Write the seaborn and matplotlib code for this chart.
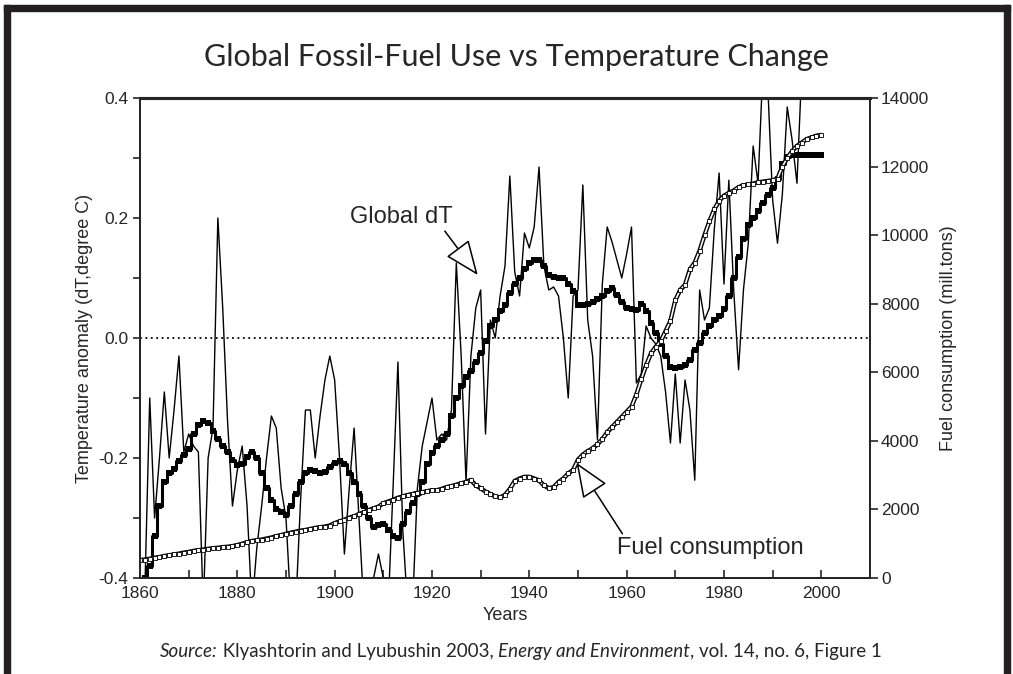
#GLOBAL FOSSIL-FUEL USE VS TEMPERATURE CHANGE (Klyashtorin & Lyubushin 2003, fig. 1)

import numpy as np
import matplotlib.pyplot as plt
import seaborn as sns

# annual temperature anomaly (thin line), 1861-2000
years = list(range(1861, 2001))
dt_annual = [-0.42, -0.10, -0.30, -0.20, -0.09, -0.20, -0.12, -0.03, -0.19, -0.16,
             -0.18, -0.19, -0.45, -0.20, -0.15, 0.20, 0.05, -0.14, -0.28, -0.22,
             -0.18, -0.28, -0.45, -0.35, -0.28, -0.20, -0.13, -0.15, -0.25, -0.30,
             -0.45, -0.45, -0.27, -0.12, -0.12, -0.20, -0.13, -0.07, -0.03, -0.07,
             -0.20, -0.36, -0.25, -0.15, -0.30, -0.45, -0.45, -0.40, -0.36, -0.40,
             -0.45, -0.25, -0.04, -0.32, -0.45, -0.45, -0.25, -0.18, -0.14, -0.10,
             -0.17, -0.16, -0.17, -0.12, 0.125, -0.03, -0.24, -0.03, 0.05, 0.08,
             -0.16, 0.03, 0.00, 0.07, 0.12, 0.27, 0.11, 0.07, 0.175, 0.15,
             0.185, 0.285, 0.12, 0.08, 0.085, 0.07, 0.00, -0.10, 0.07, 0.08,
             0.255, 0.03, -0.03, -0.17, 0.09, 0.185, 0.16, 0.13, 0.10, 0.14,
             0.185, -0.075, -0.06, 0.02, 0.00, -0.01, -0.03, -0.09, -0.175, -0.06,
             -0.175, -0.07, -0.12, -0.237, 0.08, 0.03, 0.05, 0.18, 0.275, 0.09,
             0.263, 0.08, -0.053, 0.08, 0.158, 0.32, 0.258, 0.45, 0.42, 0.23,
             0.158, 0.24, 0.385, 0.33, 0.258, 0.45, 0.45, 0.42, 0.42, 0.40]

# smoothed temperature anomaly (thick line with squares), 1861-2000
dt_smooth = [-0.40, -0.38, -0.33, -0.28, -0.24, -0.225, -0.218, -0.205, -0.195, -0.185,
             -0.16, -0.145, -0.138, -0.142, -0.155, -0.168, -0.18, -0.19, -0.203, -0.212,
             -0.21, -0.198, -0.19, -0.20, -0.225, -0.25, -0.27, -0.285, -0.29, -0.295,
             -0.28, -0.26, -0.24, -0.225, -0.22, -0.222, -0.225, -0.224, -0.215, -0.208,
             -0.205, -0.21, -0.225, -0.24, -0.26, -0.28, -0.30, -0.315, -0.312, -0.31,
             -0.32, -0.33, -0.333, -0.31, -0.29, -0.275, -0.26, -0.24, -0.21, -0.192,
             -0.18, -0.17, -0.16, -0.13, -0.10, -0.08, -0.065, -0.055, -0.04, -0.025,
             -0.005, 0.02, 0.03, 0.045, 0.055, 0.075, 0.09, 0.10, 0.115, 0.125,
             0.13, 0.13, 0.12, 0.105, 0.102, 0.10, 0.10, 0.09, 0.078, 0.055,
             0.055, 0.057, 0.06, 0.065, 0.07, 0.078, 0.083, 0.072, 0.06, 0.05,
             0.048, 0.047, 0.057, 0.045, 0.025, 0.008, -0.01, -0.03, -0.048, -0.05,
             -0.048, -0.045, -0.037, -0.02, -0.008, 0.008, 0.02, 0.03, 0.037, 0.048,
             0.07, 0.10, 0.135, 0.165, 0.188, 0.20, 0.212, 0.225, 0.238, 0.25,
             0.265, 0.29, 0.302, 0.305, 0.305, 0.305, 0.305, 0.305, 0.305, 0.305]

# fuel consumption (mill. tons), 1860-2000
fuel_years = list(range(1860, 2001))
fuel = [520, 540, 560, 590, 610, 640, 660, 690, 710, 740,
        760, 790, 810, 830, 850, 870, 880, 900, 910, 930,
        960, 1000, 1040, 1080, 1100, 1120, 1150, 1180, 1220, 1250,
        1290, 1320, 1350, 1380, 1400, 1430, 1460, 1480, 1500, 1530,
        1600, 1650, 1700, 1760, 1800, 1860, 1920, 1980, 2030, 2080,
        2180, 2230, 2280, 2340, 2380, 2420, 2450, 2480, 2500, 2530,
        2560, 2560, 2600, 2650, 2680, 2720, 2760, 2800, 2860, 2700,
        2620, 2520, 2450, 2380, 2350, 2420, 2600, 2830, 2900, 2950,
        2950, 2900, 2850, 2700, 2620, 2650, 2800, 2900, 3050, 3150,
        3450, 3600, 3700, 3780, 3900, 4050, 4250, 4400, 4550, 4700,
        4850, 5000, 5350, 5800, 6200, 6550, 6750, 6900, 7200, 7500,
        8100, 8400, 8550, 9000, 9200, 9550, 10000, 10400, 10750, 11000,
        11150, 11230, 11300, 11400, 11450, 11480, 11500, 11540, 11560, 11580,
        11600, 11650, 12000, 12250, 12450, 12600, 12700, 12800, 12850, 12900,
        12920]

sns.set_style("ticks")
plt.rcParams['font.family'] = ['Liberation Sans', 'DejaVu Sans']

fig = plt.figure(figsize=(10.13, 6.74), dpi=100)
ax = fig.add_axes([0.1382, 0.1424, 0.7206, 0.7122])
ax2 = ax.twinx()

# temperature curves
sns.lineplot(x=years, y=dt_annual, ax=ax, color='black', lw=1.0)
sns.lineplot(x=years, y=dt_smooth, ax=ax, color='black', lw=2.2,
             marker='s', markersize=5, markeredgewidth=0, drawstyle='steps-mid')
ax.axhline(0, color='black', lw=1.3, ls=(0, (1, 2)))

# fuel consumption: double outlined line with open squares
sns.lineplot(x=fuel_years, y=fuel, ax=ax2, color='black', lw=3.2)
sns.lineplot(x=fuel_years, y=fuel, ax=ax2, color='white', lw=1.2,
             marker='s', markersize=3.5, markerfacecolor='white',
             markeredgecolor='black', markeredgewidth=0.6)

ax.set_xlim(1860, 2010)
ax.set_ylim(-0.4, 0.4)
ax2.set_ylim(0, 14000)

ax.set_xticks(range(1860, 2001, 20))
ax.set_xticks(range(1860, 2011, 10), minor=True)
ax.set_yticks([-0.4, -0.2, 0.0, 0.2, 0.4])
ax.set_yticklabels(['-0.4', '-0.2', '0.0', '0.2', '0.4'])
ax.set_yticks(np.arange(-0.4, 0.41, 0.1), minor=True)
ax2.set_yticks(range(0, 14001, 2000))

ax.tick_params(axis='x', which='both', direction='in', length=6, width=1.2,
               labelsize=12.5, pad=6)
ax.tick_params(axis='y', which='both', direction='out', length=5, width=1.2,
               labelsize=12.5)
ax2.tick_params(axis='y', direction='out', length=6, width=1.2, labelsize=12.5, pad=2)

for a in (ax, ax2):
    for s in a.spines.values():
        s.set_visible(True)
        s.set_linewidth(1.4)
    a.spines['top'].set_linewidth(2.2)

ax.set_xlabel('Years', fontsize=13, labelpad=4)
ax.set_ylabel('Temperature anomaly (dT,degree C)', fontsize=13, labelpad=4)
ax2.set_ylabel('Fuel consumption (mill.tons)', fontsize=13, labelpad=8)

# callouts with hollow arrow heads
arrow = dict(arrowstyle='-|>,head_length=1.1,head_width=0.45', fc='white',
             ec='black', lw=1.1, mutation_scale=20, shrinkA=0, shrinkB=0)
ax.annotate('Global dT', xy=(1929.4, 0.105), xytext=(1913.7, 0.202),
            ha='center', va='center', fontsize=17,
            arrowprops=dict(arrow, relpos=(0.9, 0.0)))
ax.annotate('Fuel consumption', xy=(1949.7, -0.208), xytext=(1977.2, -0.35),
            ha='center', va='center', fontsize=17,
            arrowprops=dict(arrow, relpos=(0.04, 1.0)))

# title and source line (italic parts chained after one another)
fig.text(0.51, 1 - 57 / 674, 'Global Fossil-Fuel Use vs Temperature Change',
         ha='center', va='center', fontsize=22, family='Lato')
y_src = 1 - 657 / 674
parts = [('Source:', 'italic'), (' Klyashtorin and Lyubushin 2003, ', 'normal'),
         ('Energy and Environment', 'italic'), (', vol. 14, no. 6, Figure 1', 'normal')]
prev = fig.text(160 / 1013, y_src, parts[0][0], fontsize=13.5, family='Lato',
                style=parts[0][1], va='baseline', ha='left')
for txt, st in parts[1:]:
    prev = plt.annotate(txt, xy=(1, y_src), xycoords=(prev, 'figure fraction'),
                        fontsize=13.5, family='Lato', style=st,
                        va='baseline', ha='left')

# dark frame around the figure
frame = '#231f20'
fig.patches.append(plt.Rectangle((4 / 1013, 1 - 11 / 674), 1006 / 1013, 6 / 674,
                                 transform=fig.transFigure, color=frame, zorder=5))
fig.patches.append(plt.Rectangle((4 / 1013, 0), 6 / 1013, 1 - 5 / 674,
                                 transform=fig.transFigure, color=frame, zorder=5))
fig.patches.append(plt.Rectangle((1004 / 1013, 0), 6 / 1013, 1 - 5 / 674,
                                 transform=fig.transFigure, color=frame, zorder=5))

plt.savefig('out.png', dpi=100)
